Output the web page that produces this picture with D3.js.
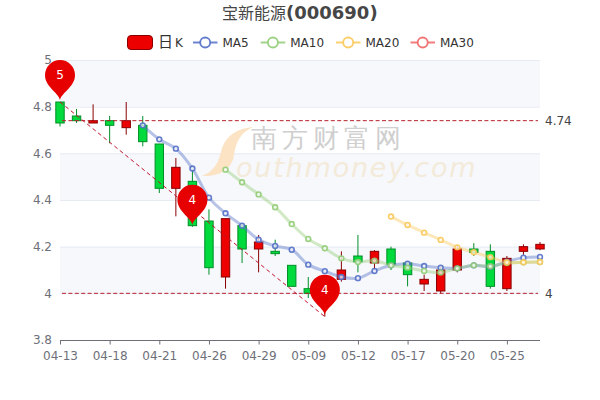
<!DOCTYPE html>
<html><head><meta charset="utf-8">
<script src="https://cdn.jsdelivr.net/npm/d3@7/dist/d3.min.js"></script>
<style>html,body{margin:0;padding:0;background:#fff}svg{display:block}text{font-family:"DejaVu Sans",sans-serif}</style>
</head><body><svg id="c" width="600" height="400"></svg>
<script>
const dates=["04-13","04-14","04-15","04-18","04-19","04-20","04-21","04-22","04-25","04-26","04-27","04-28","04-29","05-05","05-06","05-09","05-10","05-11","05-12","05-13","05-16","05-17","05-18","05-19","05-20","05-23","05-24","05-25","05-26","05-27"];
const opens=[4.82,4.76,4.73,4.74,4.71,4.72,4.64,4.45,4.48,4.31,4.07,4.29,4.19,4.18,4.12,4.02,4.0,4.06,4.16,4.13,4.19,4.13,4.04,4.01,4.10,4.19,4.18,4.02,4.18,4.19];
const closes=[4.73,4.74,4.74,4.72,4.74,4.65,4.45,4.54,4.29,4.11,4.32,4.19,4.22,4.17,4.03,4.0,4.04,4.10,4.135,4.18,4.125,4.08,4.06,4.10,4.19,4.175,4.03,4.15,4.2,4.21];
const lows=[4.715,4.73,4.73,4.643,4.68,4.63,4.43,4.33,4.285,4.08,4.02,4.13,4.09,4.16,4.03,3.98,3.9,4.05,4.09,4.10,4.10,4.03,4.01,4.0,4.09,4.16,4.02,4.01,4.165,4.185];
const highs=[4.82,4.79,4.81,4.76,4.82,4.76,4.64,4.58,4.53,4.36,4.32,4.30,4.25,4.23,4.12,4.07,4.05,4.18,4.25,4.185,4.2,4.135,4.08,4.115,4.205,4.215,4.21,4.16,4.21,4.22];
const ma5=[null,null,null,null,null,4.72,4.66,4.62,4.535,4.41,4.343,4.29,4.23,4.203,4.187,4.123,4.095,4.07,4.065,4.096,4.12,4.127,4.117,4.11,4.107,4.12,4.114,4.136,4.153,4.156];
const ma10=[null,null,null,null,null,null,null,null,null,null,4.53,4.476,4.424,4.369,4.297,4.233,4.193,4.15,4.134,4.14,4.12,4.11,4.096,4.089,4.107,4.12,4.116,4.13,4.133,4.134];
const ma20=[null,null,null,null,null,null,null,null,null,null,null,null,null,null,null,null,null,null,null,null,4.329,4.293,4.26,4.229,4.197,4.176,4.155,4.133,4.133,4.134];
const yTicks=[3.8,4,4.2,4.4,4.6,4.8,5];
const xTickIdx=[0,3,6,9,12,15,18,21,24,27];
const shadedBands=[[4.8,5],[4.4,4.6],[4,4.2]];
const markLines=[4.74,4];
const pinIdx=[0,8,16];
const pinPrice=[4.82,4.285,3.9];
const pinLabels=["5","4","4"];
const legendNames=["MA5","MA10","MA20","MA30"];
const legendColors=["#5470c6","#91cc75","#fac858","#ee6666"];

const svg=d3.select("#c");
const x=d3.scaleLinear().domain([0,dates.length-1]).range([60,540]);
const y=d3.scaleLinear().domain([3.8,5]).range([340,60]);

// split areas and grid
svg.selectAll(".band").data(shadedBands).join("rect").attr("x",x(0)).attr("width",x(29)-x(0))
 .attr("y",d=>y(d[1])).attr("height",d=>y(d[0])-y(d[1])).attr("fill","#d2dbee").attr("fill-opacity",.2);
svg.selectAll(".grid").data(yTicks.slice(1)).join("line").attr("x1",x(0)).attr("x2",x(29))
 .attr("y1",d=>y(d)+.5).attr("y2",d=>y(d)+.5).attr("stroke","#e6eaf3");

// watermark
const wm=svg.append("g");
wm.append("path").attr("d","M253,127 C232,129 224,140 221,152 C218,165 212,172 202,176 C218,177 232,170 234,155 C236,142 240,133 253,127Z").attr("fill","#fbe3c4");
wm.append("text").attr("x",251).attr("y",147).attr("font-family","'Noto Sans CJK SC'").attr("font-weight",500).attr("font-size",26).attr("letter-spacing",5).attr("fill","#cfcfcf").text("南方财富网");
wm.append("text").attr("x",236).attr("y",177).attr("font-family","'Liberation Serif'").attr("font-style","italic").attr("font-size",27).attr("letter-spacing",1.8).attr("fill","#f4ead9").text("outhmoney.com");

// x axis
const axis=d3.axisBottom(x).tickValues(xTickIdx).tickSize(4).tickPadding(7).tickFormat(i=>dates[i]);
const ax=svg.append("g").attr("transform","translate(0,340.5)").call(axis);
ax.select(".domain").attr("stroke","#6e7079").attr("d","M60,0H540");
ax.selectAll("line").attr("stroke","#6e7079");
ax.selectAll("text").attr("fill","#6e7079").attr("font-size",12).attr("font-family","DejaVu Sans");

// y labels
const ay=d3.axisLeft(y).tickValues(yTicks).tickSize(0).tickPadding(8).tickFormat(d=>d3.format("~g")(d));
const ayg=svg.append("g").attr("transform","translate(60,0)").call(ay);
ayg.select(".domain").remove();
ayg.selectAll("text").attr("fill","#6e7079").attr("font-size",12).attr("font-family","DejaVu Sans");

// candles
const idx=d3.range(dates.length);
const cw=8.4;
const up=i=>closes[i]>=opens[i];
const cg=svg.append("g").selectAll("g").data(idx).join("g");
cg.append("line").attr("x1",i=>x(i)).attr("x2",i=>x(i)).attr("y1",i=>y(highs[i])).attr("y2",i=>y(lows[i]))
 .attr("stroke",i=>up(i)?"#8a0000":"#008f28");
cg.append("rect").attr("x",i=>x(i)-cw/2).attr("width",cw)
 .attr("y",i=>y(Math.max(opens[i],closes[i]))).attr("height",i=>Math.max(1,Math.abs(y(opens[i])-y(closes[i]))))
 .attr("fill",i=>up(i)?"#ec0000":"#00da3c").attr("stroke",i=>up(i)?"#8a0000":"#008f28");

// mark lines
svg.selectAll(".ml").data(markLines).join("line").attr("x1",x(0)+2).attr("x2",x(29)-2)
 .attr("y1",d=>y(d)).attr("y2",d=>y(d)).attr("stroke","#b8202c").attr("stroke-width",1).attr("stroke-dasharray","4,2.4");
svg.selectAll(".mlt").data(markLines).join("text").attr("x",x(29)+5).attr("y",d=>y(d)+4.5)
 .attr("font-size",12).attr("fill","#444").text(d=>d);

// MA lines
const lineGen=d3.line().defined(d=>d!=null).x((d,i)=>x(i)).y(d=>y(d)).curve(d3.curveCatmullRom.alpha(.5));
[[ma5,0],[ma10,1],[ma20,2]].forEach(([s,k])=>{
 const c=legendColors[k];
 svg.append("path").attr("d",lineGen(s)).attr("fill","none").attr("stroke",c).attr("stroke-width",3).attr("stroke-opacity",.42);
 svg.append("g").selectAll("circle").data(idx.filter(i=>s[i]!=null)).join("circle")
  .attr("cx",i=>x(i)).attr("cy",i=>y(s[i])).attr("r",2.4).attr("fill","#fff").attr("fill-opacity",.7).attr("stroke",c).attr("stroke-opacity",.9).attr("stroke-width",1.6);
});

// trend line between extremes
svg.append("line").attr("x1",x(pinIdx[0])).attr("y1",y(pinPrice[0])).attr("x2",x(pinIdx[2])).attr("y2",y(pinPrice[2]))
 .attr("stroke","#c0142c").attr("stroke-width",1).attr("stroke-dasharray","4,3");

// pins
const pin=svg.append("g").selectAll("g").data(pinIdx).join("g").attr("transform",(d,k)=>`translate(${x(d)},${y(pinPrice[k])-2})`);
pin.append("path").attr("d","M0,0C-2,-8 -15,-13 -15,-25A15,15 0 1 1 15,-25C15,-13 2,-8 0,0Z").attr("fill","#e60000");
pin.append("text").attr("y",-21).attr("text-anchor","middle").attr("font-size",12).attr("fill","#fff").text((d,k)=>pinLabels[k]);

// title
const t=svg.append("text").attr("x",222).attr("y",19).attr("fill","#464646");
t.append("tspan").attr("font-family","'Noto Sans CJK SC'").attr("font-size",16).text("宝新能源");
t.append("tspan").attr("font-size",18).attr("font-weight","bold").text("(000690)");

// legend
const lg=svg.append("g");
lg.append("rect").attr("x",127.5).attr("y",35.5).attr("width",25).attr("height",14).attr("rx",3.5).attr("fill","#ec0000").attr("stroke","#8a0000").attr("stroke-width",1);
const lt=lg.append("text").attr("x",158).attr("y",47).attr("fill","#333");
lt.append("tspan").attr("font-family","'Noto Sans CJK SC'").attr("font-size",15).text("日");
lt.append("tspan").attr("font-size",12).attr("dx",2).text("K");
const lxs=[193,260.7,336,410.5];
legendNames.forEach((n,k)=>{
 const g=lg.append("g").attr("transform",`translate(${lxs[k]},42.5)`);
 g.append("line").attr("x2",24.5).attr("stroke",legendColors[k]).attr("stroke-width",2).attr("stroke-opacity",.85);
 g.append("circle").attr("cx",12.2).attr("r",5).attr("fill","#fff").attr("stroke",legendColors[k]).attr("stroke-opacity",.9).attr("stroke-width",1.8);
 g.append("text").attr("x",29.5).attr("y",4.5).attr("font-size",12).attr("fill","#333").text(n);
});
</script></body></html>
